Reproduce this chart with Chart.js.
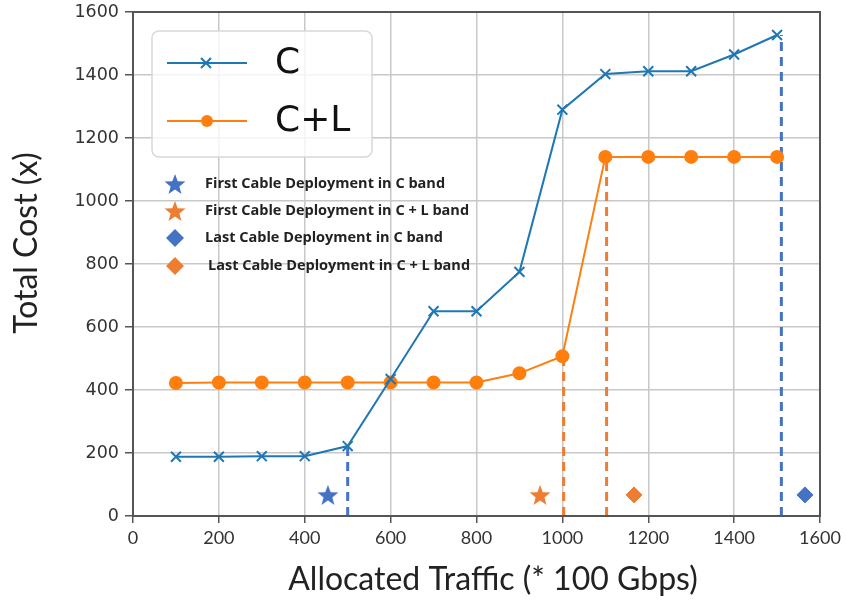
<!DOCTYPE html>
<html>
<head>
<meta charset="utf-8">
<script src="https://cdn.jsdelivr.net/npm/chart.js@4"></script>
<style>
  html, body { margin: 0; padding: 0; background: #fff; }
  #wrap { width: 846px; height: 603px; }
</style>
</head>
<body>
<div id="wrap"><canvas id="cost"></canvas></div>
<script>
// traffic steps (* 100 Gbps)
const traffic = [100, 200, 300, 400, 500, 600, 700, 800, 900, 1000, 1100, 1200, 1300, 1400, 1500];
const costC = [188, 188, 190, 190, 222, 435, 650, 650, 775, 1290, 1403, 1412, 1412, 1465, 1527];
const costCL = [422, 424, 424, 424, 424, 424, 424, 424, 453, 507, 1140, 1140, 1140, 1140, 1140];

// cable deployment markers: [traffic, cost]
const firstC = [454, 67];
const firstCL = [948, 67];
const lastC = [1565, 67];
const lastCL = [1167, 67];

// dashed drop lines: [traffic, top cost]
const dropC = [[500, 222], [1510, 1527]];
const dropCL = [[1003, 507], [1103, 1140]];

const xTicks = [0, 200, 400, 600, 800, 1000, 1200, 1400, 1600];
const yTicks = [0, 200, 400, 600, 800, 1000, 1200, 1400, 1600];

const BLUE = '#1f77b4', ORANGE = '#ff7f0e';
const MBLUE = '#4472c4', MORANGE = '#ed7d31';

function starPath(ctx, cx, cy, r) {
  ctx.beginPath();
  for (let i = 0; i < 10; i++) {
    const rad = i % 2 ? r * 0.42 : r;
    const a = -Math.PI / 2 + i * Math.PI / 5;
    const px = cx + rad * Math.cos(a), py = cy + rad * Math.sin(a);
    i ? ctx.lineTo(px, py) : ctx.moveTo(px, py);
  }
  ctx.closePath();
}

function starImage(color, r) {
  const c = document.createElement('canvas');
  c.width = c.height = Math.ceil(r * 2 + 2);
  const g = c.getContext('2d');
  g.fillStyle = color;
  starPath(g, c.width / 2, c.height / 2 + 1, r);
  g.fill();
  return c;
}

function diamondPath(ctx, cx, cy, r) {
  ctx.beginPath();
  ctx.moveTo(cx, cy - r);
  ctx.lineTo(cx + r, cy);
  ctx.lineTo(cx, cy + r);
  ctx.lineTo(cx - r, cy);
  ctx.closePath();
}

function dropSets(list, color) {
  return list.map(d => ({
    data: [{x: d[0], y: 0}, {x: d[0], y: d[1]}],
    borderColor: color, borderWidth: 3, borderDash: [9, 6],
    pointRadius: 0, order: 5
  }));
}

// frame, axis titles and the two legend blocks
const legendPlugin = {
  id: 'legends',
  afterDatasetsDraw(chart) {
    const ctx = chart.ctx;
    const a = chart.chartArea;
    ctx.save();
    ctx.strokeStyle = '#555';
    ctx.lineWidth = 2;
    ctx.strokeRect(a.left, a.top, a.right - a.left, a.bottom - a.top);

    // axis titles
    ctx.fillStyle = '#222';
    ctx.font = '32px Lato';
    ctx.textAlign = 'center';
    ctx.textBaseline = 'middle';
    ctx.fillText('Allocated Traffic (* 100 Gbps)', 493, 580);
    ctx.save();
    ctx.translate(27, 243);
    ctx.rotate(-Math.PI / 2);
    ctx.fillText('Total Cost (x)', 0, 0);
    ctx.restore();
    ctx.textAlign = 'left';

    // series legend
    ctx.fillStyle = 'rgba(255,255,255,0.8)';
    ctx.strokeStyle = '#d8d8d8';
    ctx.lineWidth = 1.5;
    ctx.beginPath();
    ctx.roundRect(152, 31, 220, 126, 7);
    ctx.fill();
    ctx.stroke();

    ctx.lineWidth = 2;
    ctx.strokeStyle = BLUE;
    ctx.beginPath(); ctx.moveTo(167, 63); ctx.lineTo(247, 63); ctx.stroke();
    ctx.beginPath();
    ctx.moveTo(201, 58); ctx.lineTo(211, 68);
    ctx.moveTo(211, 58); ctx.lineTo(201, 68);
    ctx.stroke();
    ctx.strokeStyle = ORANGE;
    ctx.beginPath(); ctx.moveTo(167, 121); ctx.lineTo(247, 121); ctx.stroke();
    ctx.fillStyle = ORANGE;
    ctx.beginPath(); ctx.arc(207, 121, 6, 0, Math.PI * 2); ctx.fill();

    ctx.fillStyle = '#111';
    ctx.font = '36px "DejaVu Sans"';
    ctx.fillText('C', 275, 64);
    ctx.fillText('C+L', 275, 122);

    // marker legend
    const rows = [
      ['star', MBLUE, 'First Cable Deployment in C band', 205, 184],
      ['star', MORANGE, 'First Cable Deployment in C + L band', 205, 211],
      ['diamond', MBLUE, 'Last Cable Deployment in C band', 205, 238],
      ['diamond', MORANGE, 'Last Cable Deployment in C + L band', 208, 266]
    ];
    ctx.font = 'bold 14.5px "Open Sans"';
    rows.forEach(r => {
      ctx.fillStyle = r[1];
      if (r[0] === 'star') starPath(ctx, 175, r[4] + 1, 11);
      else diamondPath(ctx, 175, r[4], 9);
      ctx.fill();
      ctx.fillStyle = '#222';
      ctx.fillText(r[2], r[3], r[4]);
    });
    ctx.restore();
  }
};

new Chart(document.getElementById('cost'), {
  type: 'line',
  data: {
    datasets: [
      {
        label: 'C',
        data: traffic.map((t, i) => ({x: t, y: costC[i]})),
        borderColor: BLUE, borderWidth: 2,
        pointStyle: 'crossRot', pointRadius: 7, pointBorderWidth: 2,
        pointBorderColor: BLUE, order: 2
      },
      {
        label: 'C+L',
        data: traffic.map((t, i) => ({x: t, y: costCL[i]})),
        borderColor: ORANGE, backgroundColor: ORANGE, borderWidth: 2,
        pointStyle: 'circle', pointRadius: 6, order: 3
      },
      ...dropSets(dropC, MBLUE),
      ...dropSets(dropCL, MORANGE),
      {
        data: [{x: firstC[0], y: firstC[1]}],
        pointStyle: starImage(MBLUE, 11), showLine: false, order: 1
      },
      {
        data: [{x: firstCL[0], y: firstCL[1]}],
        pointStyle: starImage(MORANGE, 11), showLine: false, order: 1
      },
      {
        data: [{x: lastC[0], y: lastC[1]}],
        pointStyle: 'rectRot', pointRadius: 8, backgroundColor: MBLUE,
        borderColor: MBLUE, showLine: false, order: 1
      },
      {
        data: [{x: lastCL[0], y: lastCL[1]}],
        pointStyle: 'rectRot', pointRadius: 8, backgroundColor: MORANGE,
        borderColor: MORANGE, showLine: false, order: 1
      }
    ]
  },
  options: {
    responsive: true,
    maintainAspectRatio: false,
    animation: false,
    layout: { padding: { top: 12, right: 26, left: 0, bottom: 0 } },
    plugins: { legend: { display: false }, tooltip: { enabled: false } },
    scales: {
      x: {
        type: 'linear', min: 0, max: 1600,
        afterBuildTicks: s => { s.ticks = xTicks.map(v => ({value: v})); },
        afterFit: s => { s.height = 87; s.paddingRight = 0; },
        grid: { color: '#c8c8c8', lineWidth: 1.5, tickLength: 7, tickColor: '#555' },
        border: { color: '#555', width: 2 },
        ticks: {
          color: '#333', font: { family: 'Lato', size: 18 }, padding: 4,
          callback: v => String(v)
        }
      },
      y: {
        type: 'linear', min: 0, max: 1600,
        afterBuildTicks: s => { s.ticks = yTicks.map(v => ({value: v})); },
        afterFit: s => { s.width = 133; s.paddingTop = 0; s.paddingBottom = 0; },
        grid: { color: '#c8c8c8', lineWidth: 1.5, tickLength: 8, tickColor: '#555' },
        border: { color: '#555', width: 2 },
        ticks: {
          color: '#333', font: { family: 'DejaVu Sans', size: 17.5 }, padding: 6,
          callback: v => String(v)
        }
      }
    }
  },
  plugins: [legendPlugin]
});
</script>
</body>
</html>
